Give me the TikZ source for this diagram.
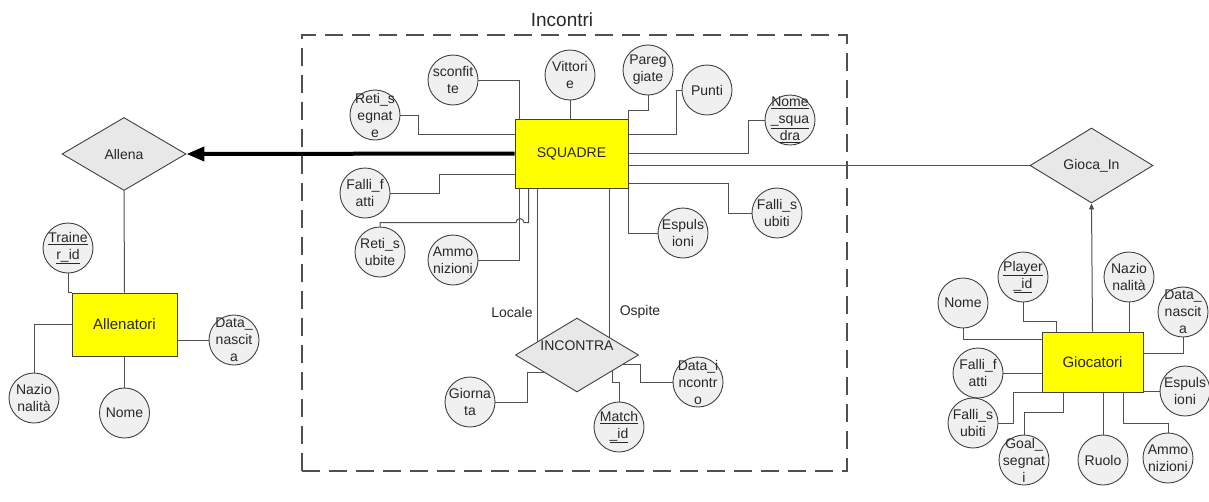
\documentclass[tikz,border=0pt]{standalone}
\usepackage{fontspec}
\setmainfont{Liberation Sans}
\usetikzlibrary{arrows.meta,shapes.geometric,backgrounds}
\definecolor{erLine}{RGB}{80,80,80}
\definecolor{erEdge}{RGB}{64,64,64}
\definecolor{erAttr}{RGB}{240,240,240}
\definecolor{erRel}{RGB}{232,232,232}
\definecolor{erEnt}{RGB}{255,255,0}
\definecolor{erText}{RGB}{40,40,40}

\begin{document}
\begin{tikzpicture}[
  x=1pt,y=-1pt,
  font=\fontsize{14}{17}\selectfont,
  ent/.style={draw=erEdge,fill=erEnt,line width=0.9pt,inner sep=0pt,text=erText},
  big/.style={font=\fontsize{15}{18}\selectfont},
  rel/.style={diamond,draw=erEdge,fill=erRel,line width=0.9pt,inner sep=0pt,text=erText},
  attr/.style={circle,draw=erEdge,fill=erAttr,line width=0.9pt,minimum size=50pt,inner sep=0pt},
  atxt/.style={inner sep=0pt,align=center,text=erText},
  conn/.style={draw=erLine,line width=1pt},
  frame/.style={draw=erLine,dash pattern=on 18pt off 9pt,line width=1.2pt,inner sep=0pt},
  lbl/.style={inner sep=1pt,text=erText},
  owns/.style={-{Triangle[length=18pt,width=14pt]},line width=4pt,black},
  plays/.style={conn,-{Triangle[length=6pt,width=5pt]}},
]
\useasboundingbox (0,0) rectangle (1209,501);

% Incontri frame
\node[frame,minimum width=545pt,minimum height=436pt] (box) at (574.5,253) {};
\node[lbl,font=\fontsize{19}{22}\selectfont] (boxlbl) at (562,20) {Incontri};

% entities
\node[ent,minimum width=113pt,minimum height=69pt] (SQ) at (571.5,153.5) {SQUADRE};
\node[ent,big,minimum width=105pt,minimum height=63pt] (AT) at (124.5,324.5) {Allenatori};
\node[ent,big,minimum width=101pt,minimum height=60pt] (GC) at (1092.5,362) {Giocatori};

% relationships
\node[rel,minimum width=124pt,minimum height=73pt] (Al) at (124,154) {Allena};
\node[rel,minimum width=123pt,minimum height=75pt] (GI) at (1091.5,165.5) {Gioca\_In};
\node[rel,minimum width=123pt,minimum height=74pt,
      label={[atxt,yshift=9pt]center:INCONTRA}] (IN) at (577,355) {};
\node[lbl] (loc) at (512,312) {Locale};
\node[lbl] (osp) at (640,312) {Ospite};

% Allenatori attributes
\node[attr,label={[atxt]center:{\underline{Traine}\\\underline{r\_id}}}] (tid) at (68,248) {};
\node[attr,label={[atxt]center:{Nazio\\nalità}}] (anz) at (34,398) {};
\node[attr,label={[atxt]center:{Nome}}] (anm) at (124.5,413) {};
\node[attr,label={[atxt]center:{Data\_\\nascit\\a}}] (adn) at (234,340) {};

% SQUADRE attributes
\node[attr,label={[atxt]center:{sconfit\\te}}] (sc) at (453,80) {};
\node[attr,label={[atxt]center:{Vittori\\e}}] (vt) at (570,75) {};
\node[attr,label={[atxt]center:{Pareg\\giate}}] (pg) at (648,70) {};
\node[attr,label={[atxt]center:{Punti}}] (pu) at (707,90) {};
\node[attr,label={[atxt]center:{\underline{Nome}\\\underline{\_squa}\\\underline{dra}}}] (ns) at (790,120) {};
\node[attr,label={[atxt]center:{Reti\_s\\egnat\\e}}] (rsg) at (375,115) {};
\node[attr,label={[atxt]center:{Falli\_f\\atti}}] (ff) at (365,193) {};
\node[attr,label={[atxt]center:{Reti\_s\\ubite}}] (rsb) at (380,252) {};
\node[attr,label={[atxt]center:{Ammo\\nizioni}}] (am) at (453,260) {};
\node[attr,label={[atxt]center:{Espuls\\ioni}}] (es) at (683,233) {};
\node[attr,label={[atxt]center:{Falli\_s\\ubiti}}] (fs) at (777,213) {};

% INCONTRA attributes
\node[attr,label={[atxt]center:{Giorna\\ta}}] (gi) at (470,402) {};
\node[attr,label={[atxt]center:{\underline{Match}\\\underline{\_id}}}] (mi) at (619,427) {};
\node[attr,label={[atxt]center:{Data\_i\\ncontr\\o}}] (di) at (698,382) {};

% Giocatori attributes
\node[attr,label={[atxt]center:{Nome}}] (gnm) at (963,303) {};
\node[attr,label={[atxt]center:{\underline{Player}\\\underline{\_id}}}] (pid) at (1023,277) {};
\node[attr,label={[atxt]center:{Nazio\\nalità}}] (gnz) at (1129,277) {};
\node[attr,label={[atxt]center:{Data\_\\nascit\\a}}] (gdn) at (1183,312) {};
\node[attr,label={[atxt]center:{Falli\_f\\atti}}] (gff) at (978,373) {};
\node[attr,label={[atxt]center:{Espuls\\ioni}}] (ges) at (1185,391) {};
\node[attr,label={[atxt]center:{Falli\_s\\ubiti}}] (gfs) at (973,423) {};
\node[attr,label={[atxt]center:{Goal\_\\segnat\\i}}] (ggs) at (1024,460) {};
\node[attr,label={[atxt]center:{Ruolo}}] (gru) at (1103,460) {};
\node[attr,label={[atxt]center:{Ammo\\nizioni}}] (gam) at (1168,458) {};

% connectors, kept behind the shapes
\begin{scope}[on background layer]
% Allenatori
\draw[conn] (Al.south) -- (AT.north);
\draw[conn] (tid.south) |- (AT.north west);
\draw[conn] (anz.north) |- (AT.west);
\draw[conn] (AT.south) -- (anm.north);
\draw[conn] (adn.west -| AT.east) -- (adn.west);
% SQUADRE
\draw[conn] (sc.east) -| ([xshift=5pt]SQ.north west);
\draw[conn] (vt.south) -- (vt.south |- SQ.north);
\draw[conn] (pg.south) -- ++(0,15) -| (SQ.north east);
\draw[conn] (pu.west) -- ++(-5,0) |- ([yshift=-16pt]SQ.north east);
\draw[conn] (ns.west) -- ++(-16,0) |- (SQ.east);
\draw[conn] (SQ.east |- GI.west) -- (GI.west);
\draw[conn] ([yshift=5pt]SQ.south east) -- ++(100,0) |- (fs.west);
\draw[conn] (SQ.south east) |- (es.west);
\draw[conn] (rsg.east) -- ++(18,0) |- ([yshift=-16pt]SQ.north west);
\draw[conn] (ff.east) -- ++(49,0) |- ([yshift=14pt]SQ.south west);
\draw[conn] (am.east) -| ([xshift=5pt]SQ.south west);
\draw[conn] (rsb.north) -- ++(0,-4) -- ++(136,0)
  arc[start angle=180,end angle=0,radius=4pt] -| ([xshift=14pt]SQ.south west);
\draw[conn] ([xshift=23pt]SQ.south west) -- ([xshift=23pt]SQ.south west |- IN.center);
\draw[conn] ([xshift=-19pt]SQ.south east) -- ([xshift=-19pt]SQ.south east |- IN.center);
% INCONTRA
\draw[conn] (gi.east) -- ++(32,0) |- ([yshift=-17pt]IN.center);
\draw[conn] (di.west) -- ++(-32,0) |- ([yshift=-9pt]IN.center);
\draw[conn] (mi.north) -- ++(0,-19) -| ([xshift=35pt]IN.center);
% Giocatori
\draw[conn] (gnm.south) |- ([yshift=-8pt]GC.north west);
\draw[conn] (pid.south) -- ++(0,19) -| ([xshift=15pt]GC.north west);
\draw[conn] (gnz.south) -- (gnz.south |- GC.north);
\draw[conn] (gdn.south) |- ([yshift=9pt]GC.east);
\draw[conn] (gff.east) -- (gff.east -| GC.west);
\draw[conn] (ges.west -| GC.east) -- (ges.west);
\draw[conn] (gfs.east) -- ++(15,0) |- (GC.south west);
\draw[conn] (ggs.north) -- ++(0,-22) -| ([xshift=22pt]GC.south west);
\draw[conn] (gru.north) -- (gru.north |- GC.south);
\draw[conn] ([xshift=-20pt]GC.south east) -- ++(0,31) -| (gam.north);
\end{scope}

% arrows
\draw[owns] (SQ.west) -- (Al.east);
\draw[plays] (GC.north) -- (GI.south);
\end{tikzpicture}
\end{document}
